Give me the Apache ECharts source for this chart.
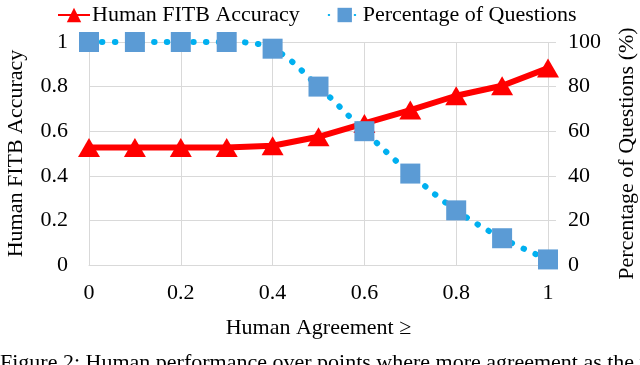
<!DOCTYPE html>
<html>
<head>
<meta charset="utf-8">
<script src="https://cdn.jsdelivr.net/npm/echarts@6.0.0/dist/echarts.min.js"></script>
<style>
	html, body { margin: 0; padding: 0; background: #fff; }
	#chart { width: 640px; height: 365px; }
</style>
</head>
<body>
<div id="chart"></div>
<script>
// values
var agreement = [0, 0.1, 0.2, 0.3, 0.4, 0.5, 0.6, 0.7, 0.8, 0.9, 1]
var accuracy = [0.527, 0.527, 0.527, 0.527, 0.535, 0.575, 0.635, 0.695, 0.759, 0.804, 0.883]
var percent = [100, 100, 100, 100, 97, 80, 60, 41, 24.5, 12, 2.5]
var caption = 'Figure 2: Human performance over points where more agreement as the threshold'

var serif = 'Liberation Serif'
var gridColor = '#d9d9d9'

function pairs(xs, ys) {
	return xs.map(function(x, i) { return [x, ys[i]] })
}

var chart = echarts.init(document.getElementById('chart'), null, { renderer: 'canvas' })

var option = {
	animation: false,
	textStyle: { fontFamily: serif },
	legend: {
		top: -1,
		left: 52,
		itemWidth: 32,
		itemHeight: 18,
		itemGap: 28,
		textStyle: { fontFamily: serif, fontSize: 22, color: '#000', padding: [0, 0, 0, -3] },
		data: ['Human FITB Accuracy', 'Percentage of Questions']
	},
	grid: {
		left: 89,
		right: 92,
		top: 42,
		bottom: 100,
		containLabel: false,
		outerBoundsMode: 'none'
	},
	xAxis: {
		type: 'value',
		min: 0,
		max: 1,
		interval: 0.2,
		name: 'Human Agreement \u2265',
		nameLocation: 'middle',
		nameGap: 52,
		nameTextStyle: { fontFamily: serif, fontSize: 22, color: '#000' },
		axisLine: { show: true, lineStyle: { color: gridColor, width: 1 } },
		axisTick: { show: false },
		splitLine: { show: true, lineStyle: { color: gridColor, width: 1 } },
		axisLabel: {
			margin: 17,
			fontFamily: serif,
			fontSize: 22,
			color: '#000',
			formatter: function(v) { return String(Math.round(v * 10) / 10) }
		}
	},
	yAxis: [{
		type: 'value',
		min: 0,
		max: 1,
		interval: 0.2,
		name: 'Human FITB Accuracy',
		nameLocation: 'middle',
		nameRotate: 90,
		nameGap: 62,
		nameTextStyle: { fontFamily: serif, fontSize: 22, color: '#000' },
		axisLine: { show: false },
		axisTick: { show: false },
		splitLine: { show: true, lineStyle: { color: gridColor, width: 1 } },
		axisLabel: {
			margin: 21,
			fontFamily: serif,
			fontSize: 22,
			color: '#000',
			formatter: function(v) { return String(Math.round(v * 10) / 10) }
		}
	}, {
		type: 'value',
		min: 0,
		max: 100,
		interval: 20,
		position: 'right',
		name: 'Percentage of Questions (%)',
		nameLocation: 'middle',
		nameRotate: 90,
		nameGap: 68,
		nameTextStyle: { fontFamily: serif, fontSize: 22, color: '#000' },
		axisLine: { show: false },
		axisTick: { show: true, length: 8, inside: false, lineStyle: { color: gridColor } },
		splitLine: { show: false },
		axisLabel: { margin: 20, fontFamily: serif, fontSize: 22, color: '#000' }
	}],
	series: [{
		name: 'Human FITB Accuracy',
		type: 'line',
		yAxisIndex: 0,
		data: pairs(agreement, accuracy),
		symbol: 'triangle',
		symbolSize: [22, 19],
		itemStyle: { color: '#ff0000' },
		lineStyle: { color: '#ff0000', width: 6 }
	}, {
		name: 'Percentage of Questions',
		type: 'line',
		yAxisIndex: 1,
		data: pairs(agreement, percent),
		smooth: 0.35,
		symbol: 'rect',
		symbolSize: 20,
		itemStyle: { color: '#5b9bd5' },
		lineStyle: { color: '#00b0f0', width: 6, type: [0.5, 12.5], cap: 'round' }
	}],
	graphic: [{
		type: 'text',
		left: 0,
		top: 352,
		style: {
			text: caption,
			font: '22px "Liberation Serif"',
			fill: '#000'
		}
	}]
}

chart.setOption(option)
</script>
</body>
</html>
